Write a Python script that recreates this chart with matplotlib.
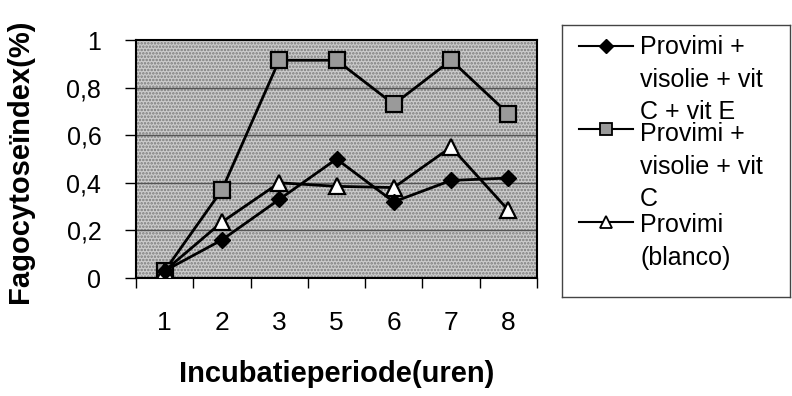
import matplotlib
matplotlib.use("Agg")
import matplotlib.pyplot as plt
from matplotlib.patches import Rectangle
from matplotlib.lines import Line2D

plt.rcParams['font.family'] = ['Liberation Sans', 'DejaVu Sans']
plt.rcParams['hatch.linewidth'] = 1.2

categories = ['1', '2', '3', '5', '6', '7', '8']
vit_c_e = [0.03, 0.16, 0.33, 0.50, 0.32, 0.41, 0.42]
vit_c = [0.03, 0.37, 0.915, 0.915, 0.73, 0.915, 0.69]
blanco = [0.03, 0.235, 0.40, 0.385, 0.38, 0.55, 0.285]
y_ticks = [0, 0.2, 0.4, 0.6, 0.8, 1.0]
y_tick_labels = ['0', '0,2', '0,4', '0,6', '0,8', '1']
legend_labels = [['Provimi +', 'visolie + vit', 'C + vit E'],
                 ['Provimi +', 'visolie + vit', 'C'],
                 ['Provimi', '(blanco)']]

W, H = 792, 396
fig = plt.figure(figsize=(W / 100, H / 100), dpi=100)
L, R, T, B = 136, 537, 40, 278
ax = fig.add_axes([L / W, 1 - B / H, (R - L) / W, (B - T) / H])

# patterned background
ax.set_facecolor('#cccccc')
ax.add_patch(Rectangle((0, 0), 1, 1, transform=ax.transAxes, facecolor='none',
                       edgecolor='#7a7a7a', hatch='.....', linewidth=0, zorder=0))

x = list(range(len(categories)))
ax.set_xlim(-0.5, len(categories) - 0.5)
ax.set_ylim(0, 1)

for yv in y_ticks[1:-1]:
    ax.axhline(yv, color='#555555', linewidth=1.0, zorder=1)

ax.plot(x, vit_c, color='black', linewidth=2, marker='s', markersize=11,
        markerfacecolor='#9a9a9a', markeredgecolor='black', markeredgewidth=1.6, zorder=3)
ax.plot(x, blanco, color='black', linewidth=2, marker='^', markersize=12,
        markerfacecolor='white', markeredgecolor='black', markeredgewidth=1.6, zorder=4)
ax.plot(x, vit_c_e, color='black', linewidth=2, marker='D', markersize=8.5,
        markerfacecolor='black', markeredgecolor='black', zorder=5)

for s in ax.spines.values():
    s.set_linewidth(1.5)
    s.set_color('black')

ax.set_yticks(y_ticks)
ax.set_yticklabels(y_tick_labels, fontsize=18)
ax.set_xticks([i - 0.5 for i in range(len(categories) + 1)])
ax.set_xticklabels([])
ax.set_xticks(x, minor=True)
ax.set_xticklabels(categories, minor=True, fontsize=19)
ax.tick_params(axis='x', which='major', length=7, width=1, direction='out')
ax.tick_params(axis='x', which='minor', length=0, pad=24)
ax.tick_params(axis='y', length=8, width=1, direction='out', pad=17)

ax.set_xlabel('Incubatieperiode(uren)', fontsize=21, fontweight='bold')
ax.xaxis.set_label_coords(0.5, -0.345)
ax.set_ylabel('Fagocytoseïndex(%)', fontsize=21, fontweight='bold')
ax.yaxis.set_label_coords(-0.255, 0.49)

# legend box
lx0, ly0, lx1, ly1 = 562, 25, 790, 297
lax = fig.add_axes([lx0 / W, 1 - ly1 / H, (lx1 - lx0) / W, (ly1 - ly0) / H])
lax.set_xlim(lx0, lx1)
lax.set_ylim(ly1, ly0)
lax.set_xticks([])
lax.set_yticks([])
for s in lax.spines.values():
    s.set_linewidth(1.0)
    s.set_color('#444444')

handle_y = [46, 129, 222]
baselines = [[54, 87, 119], [141, 174, 206], [232, 265]]
styles = [dict(marker='D', markersize=7, markerfacecolor='black', markeredgecolor='black'),
          dict(marker='s', markersize=8, markerfacecolor='#9a9a9a', markeredgecolor='black', markeredgewidth=1.3),
          dict(marker='^', markersize=8, markerfacecolor='white', markeredgecolor='black', markeredgewidth=1.3)]
for hy, bl, st, labs in zip(handle_y, baselines, styles, legend_labels):
    lax.add_line(Line2D([579, 633], [hy, hy], color='black', linewidth=1.5))
    lax.add_line(Line2D([606], [hy], linestyle='none', **st))
    for b, t in zip(bl, labs):
        lax.text(640, b, t, fontsize=18, va='baseline', ha='left')

fig.savefig('out.png', dpi=100)
